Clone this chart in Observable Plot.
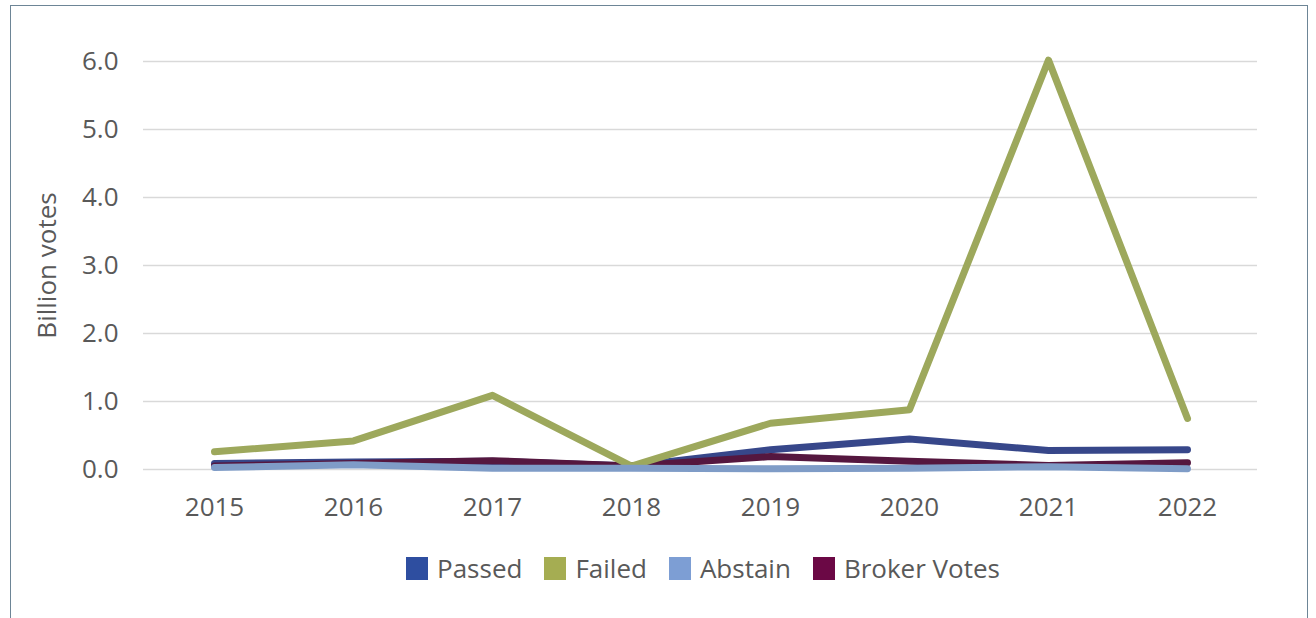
<!DOCTYPE html>
<html>
<head>
<meta charset="utf-8">
<script src="https://cdn.jsdelivr.net/npm/d3@7"></script>
<script src="https://cdn.jsdelivr.net/npm/@observablehq/plot@0.6"></script>
<style>
  html, body { margin: 0; padding: 0; background: #fff; width: 1316px; height: 618px; overflow: hidden; }
  body { position: relative; font-family: "Open Sans", sans-serif; }
  #frame { position: absolute; left: 10px; top: 5px; width: 1298px; height: 700px; border: 1.5px solid #6d8596; box-sizing: border-box; }
  #chart { position: absolute; left: 0; top: 0; }
  #legend { position: absolute; left: 0; top: 550px; width: 1406px; display: flex; justify-content: center; align-items: center; font-size: 26px; color: #595959; }
  .item { display: flex; align-items: center; margin: 0 11px; }
  .sw { width: 22px; height: 23px; margin-right: 9px; }
</style>
</head>
<body>
<div id="frame"></div>
<div id="chart"></div>
<div id="legend"></div>
<script>
const years = ["2015", "2016", "2017", "2018", "2019", "2020", "2021", "2022"];
const passed  = [0.09, 0.11, 0.12, 0.05, 0.29, 0.45, 0.28, 0.29];
const failed  = [0.26, 0.42, 1.09, 0.05, 0.68, 0.88, 6.02, 0.75];
const abstain = [0.03, 0.07, 0.02, 0.02, 0.01, 0.02, 0.04, 0.01];
const broker  = [0.05, 0.09, 0.13, 0.05, 0.19, 0.12, 0.06, 0.10];
const seriesNames = ["Passed", "Failed", "Abstain", "Broker Votes"];
const lineColors = ["#37478a", "#9da85c", "#7f9cc7", "#55173f"];
const legendColors = ["#2e4ea0", "#a5ad52", "#7d9ed4", "#6b0845"];
const yTicks = [0, 1, 2, 3, 4, 5, 6];
const yLabel = "Billion votes";

const seriesValues = [passed, failed, abstain, broker];
const drawOrder = ["Passed", "Broker Votes", "Failed", "Abstain"];
const data = [];
for (const name of drawOrder) {
  const i = seriesNames.indexOf(name);
  years.forEach((y, j) => data.push({year: y, value: seriesValues[i][j], series: name}));
}

const chart = Plot.plot({
  width: 1316,
  height: 530,
  marginLeft: 143,
  marginRight: 59,
  marginTop: 61,
  marginBottom: 61,
  style: {fontFamily: "'Open Sans', sans-serif", fontSize: "26px", color: "#595959", background: "transparent"},
  x: {type: "point", domain: years, padding: 0.5, label: null},
  y: {domain: [0, 6], label: null},
  color: {domain: seriesNames, range: lineColors},
  marks: [
    Plot.ruleY(yTicks, {stroke: "#d9d9d9", strokeWidth: 1.5}),
    Plot.axisX({tickSize: 0, tickPadding: 28, fontSize: 26, label: null}),
    Plot.axisY({ticks: yTicks, tickSize: 0, tickPadding: 25, tickFormat: d3.format(".1f"), fontSize: 26, label: null}),
    Plot.line(data, {x: "year", y: "value", z: "series", stroke: "series", strokeWidth: 7, strokeLinecap: "round", strokeLinejoin: "round"}),
    Plot.text([yLabel], {frameAnchor: "left", dx: -96, rotate: -90, fontSize: 26, fill: "#595959", textAnchor: "middle", lineAnchor: "middle"})
  ]
});
document.getElementById("chart").appendChild(chart);

const legend = document.getElementById("legend");
seriesNames.forEach((n, i) => {
  const it = document.createElement("div");
  it.className = "item";
  const sw = document.createElement("div");
  sw.className = "sw";
  sw.style.background = legendColors[i];
  const t = document.createElement("span");
  t.textContent = n;
  it.appendChild(sw); it.appendChild(t);
  legend.appendChild(it);
});
</script>
</body>
</html>
